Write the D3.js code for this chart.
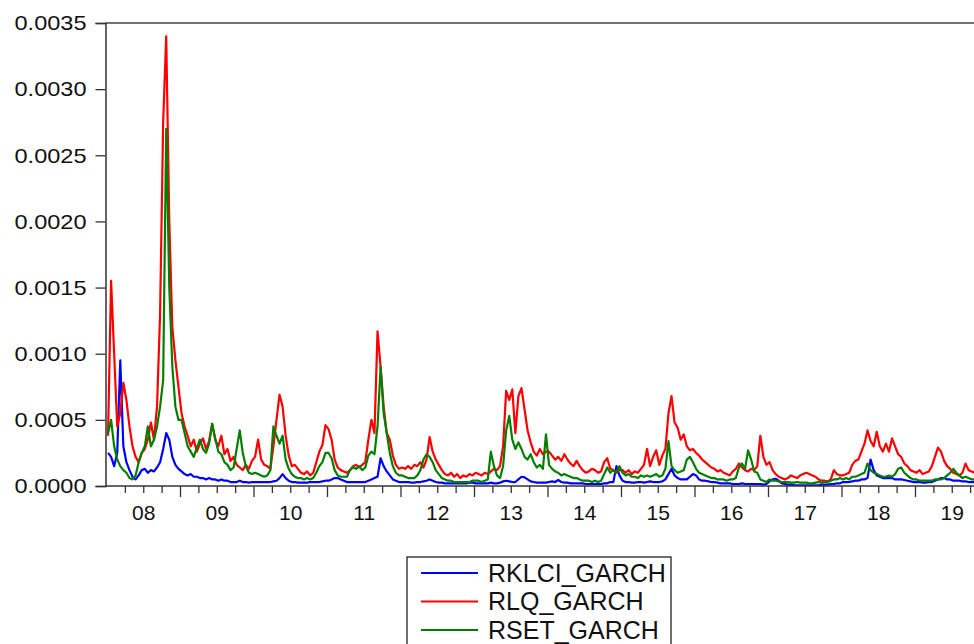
<!DOCTYPE html>
<html>
<head>
<meta charset="utf-8">
<script src="https://cdn.jsdelivr.net/npm/d3@7"></script>
<style>
  html, body { margin: 0; padding: 0; background: #ffffff; }
  svg { display: block; }
  text { font-family: "Liberation Sans", Arial, sans-serif; fill: #111; }
</style>
</head>
<body>
<svg id="chart" width="974" height="644"></svg>
<script>
// ---- data: half-monthly readings, Jan 2008 .. Dec 2019 (24 per year) ----
const seriesNames = ["RKLCI_GARCH", "RLQ_GARCH", "RSET_GARCH"];
const yearLabels = ["08","09","10","11","12","13","14","15","16","17","18","19"];
const firstYear = 2008;
const pointsPerYear = 24;
const yTickValues = [0, 0.0005, 0.0010, 0.0015, 0.0020, 0.0025, 0.0030, 0.0035];
const yTickLabels = ["0.0000","0.0005","0.0010","0.0015","0.0020","0.0025","0.0030","0.0035"];

const rklci = [
 2.5e-4,2.2e-4,1.5e-4,2.5e-4,9.5e-4,3.0e-4,1.8e-4,1.2e-4,0.7e-4,0.5e-4,0.8e-4,1.2e-4,1.3e-4,1.0e-4,1.2e-4,1.1e-4,1.4e-4,1.8e-4,2.8e-4,4.0e-4,3.5e-4,2.2e-4,1.6e-4,1.3e-4,
 1.1e-4,0.9e-4,0.8e-4,0.9e-4,0.7e-4,0.7e-4,0.6e-4,0.6e-4,0.5e-4,0.6e-4,0.5e-4,0.5e-4,0.4e-4,0.5e-4,0.4e-4,0.4e-4,0.3e-4,0.3e-4,0.3e-4,0.4e-4,0.3e-4,0.3e-4,0.25e-4,0.3e-4,
 0.3e-4,0.3e-4,0.3e-4,0.3e-4,0.3e-4,0.3e-4,0.35e-4,0.4e-4,0.6e-4,0.9e-4,0.6e-4,0.4e-4,0.3e-4,0.3e-4,0.25e-4,0.25e-4,0.25e-4,0.25e-4,0.3e-4,0.3e-4,0.3e-4,0.3e-4,0.35e-4,0.4e-4,
 0.4e-4,0.5e-4,0.6e-4,0.6e-4,0.5e-4,0.4e-4,0.3e-4,0.3e-4,0.3e-4,0.3e-4,0.3e-4,0.3e-4,0.3e-4,0.4e-4,0.5e-4,0.6e-4,0.7e-4,2.1e-4,1.5e-4,1.1e-4,0.8e-4,0.5e-4,0.4e-4,0.3e-4,
 0.3e-4,0.3e-4,0.3e-4,0.25e-4,0.25e-4,0.3e-4,0.3e-4,0.35e-4,0.4e-4,0.5e-4,0.4e-4,0.3e-4,0.25e-4,0.25e-4,0.2e-4,0.2e-4,0.2e-4,0.2e-4,0.2e-4,0.2e-4,0.2e-4,0.2e-4,0.25e-4,0.25e-4,
 0.2e-4,0.2e-4,0.2e-4,0.2e-4,0.2e-4,0.25e-4,0.2e-4,0.2e-4,0.25e-4,0.35e-4,0.4e-4,0.35e-4,0.3e-4,0.3e-4,0.5e-4,0.7e-4,0.65e-4,0.5e-4,0.35e-4,0.3e-4,0.25e-4,0.25e-4,0.25e-4,0.25e-4,
 0.3e-4,0.35e-4,0.3e-4,0.45e-4,0.3e-4,0.25e-4,0.25e-4,0.2e-4,0.2e-4,0.2e-4,0.2e-4,0.2e-4,0.15e-4,0.15e-4,0.15e-4,0.15e-4,0.15e-4,0.15e-4,0.2e-4,0.2e-4,0.3e-4,0.3e-4,1.5e-4,0.8e-4,
 0.4e-4,0.3e-4,0.3e-4,0.25e-4,0.25e-4,0.3e-4,0.3e-4,0.25e-4,0.3e-4,0.35e-4,0.3e-4,0.3e-4,0.3e-4,0.35e-4,0.5e-4,0.9e-4,1.3e-4,0.8e-4,0.6e-4,0.5e-4,0.5e-4,0.5e-4,0.7e-4,0.9e-4,
 0.8e-4,0.5e-4,0.4e-4,0.4e-4,0.35e-4,0.3e-4,0.3e-4,0.25e-4,0.2e-4,0.2e-4,0.2e-4,0.2e-4,0.15e-4,0.15e-4,0.15e-4,0.2e-4,0.15e-4,0.15e-4,0.15e-4,0.15e-4,0.15e-4,0.15e-4,0.1e-4,0.15e-4,
 0.35e-4,0.5e-4,0.55e-4,0.4e-4,0.2e-4,0.15e-4,0.1e-4,0.1e-4,0.05e-4,0.05e-4,0.05e-4,0.05e-4,0.05e-4,0.05e-4,0.05e-4,0.05e-4,0.05e-4,0.1e-4,0.1e-4,0.1e-4,0.15e-4,0.15e-4,0.2e-4,0.2e-4,
 0.3e-4,0.3e-4,0.3e-4,0.35e-4,0.4e-4,0.4e-4,0.5e-4,0.5e-4,0.6e-4,2.0e-4,1.2e-4,0.8e-4,0.7e-4,0.6e-4,0.6e-4,0.6e-4,0.6e-4,0.5e-4,0.5e-4,0.5e-4,0.45e-4,0.4e-4,0.35e-4,0.3e-4,
 0.3e-4,0.3e-4,0.25e-4,0.25e-4,0.3e-4,0.3e-4,0.4e-4,0.5e-4,0.6e-4,0.6e-4,0.5e-4,0.5e-4,0.4e-4,0.4e-4,0.4e-4,0.35e-4,0.35e-4,0.3e-4,0.3e-4,0.3e-4,0.3e-4,0.3e-4,0.3e-4,0.3e-4
];

const rlq = [
 3.8e-4,15.5e-4,10e-4,4.5e-4,5.5e-4,7.8e-4,6.5e-4,4.5e-4,3.0e-4,2.2e-4,1.8e-4,2.5e-4,2.8e-4,3.5e-4,4.8e-4,3.5e-4,6.0e-4,13e-4,27.5e-4,34e-4,20e-4,12e-4,9.5e-4,7.5e-4,
 5.5e-4,4.5e-4,3.8e-4,3.0e-4,3.5e-4,2.6e-4,3.2e-4,3.6e-4,2.8e-4,3.4e-4,4.7e-4,3.5e-4,3.0e-4,3.8e-4,2.4e-4,2.8e-4,1.9e-4,2.2e-4,1.6e-4,1.4e-4,1.2e-4,1.6e-4,1.3e-4,1.9e-4,
 2.2e-4,3.5e-4,2.0e-4,1.6e-4,1.5e-4,1.3e-4,3.0e-4,5.0e-4,6.9e-4,6.0e-4,3.8e-4,2.3e-4,1.5e-4,1.6e-4,1.3e-4,1.0e-4,0.9e-4,1.1e-4,0.8e-4,1.0e-4,1.8e-4,2.6e-4,3.1e-4,4.6e-4,
 4.3e-4,3.5e-4,2.0e-4,1.4e-4,1.2e-4,1.1e-4,1.0e-4,1.2e-4,1.5e-4,1.6e-4,1.4e-4,1.6e-4,1.8e-4,3.5e-4,5.0e-4,4.0e-4,11.7e-4,9.0e-4,6.0e-4,4.0e-4,3.5e-4,2.3e-4,1.6e-4,1.3e-4,
 1.4e-4,1.3e-4,1.5e-4,1.3e-4,1.6e-4,1.5e-4,1.8e-4,1.4e-4,2.0e-4,3.7e-4,2.6e-4,2.0e-4,1.6e-4,1.2e-4,0.9e-4,0.8e-4,1.0e-4,0.7e-4,0.9e-4,0.6e-4,0.8e-4,0.7e-4,0.9e-4,0.8e-4,
 1.0e-4,0.9e-4,0.8e-4,1.0e-4,0.9e-4,1.1e-4,1.3e-4,1.2e-4,1.5e-4,3.0e-4,7.2e-4,6.5e-4,7.3e-4,4.0e-4,6.8e-4,7.4e-4,5.8e-4,4.2e-4,3.3e-4,2.6e-4,2.3e-4,2.8e-4,2.4e-4,2.6e-4,
 2.6e-4,2.3e-4,2.0e-4,2.2e-4,1.9e-4,2.4e-4,2.0e-4,1.7e-4,1.5e-4,1.9e-4,1.5e-4,1.2e-4,1.0e-4,1.1e-4,1.3e-4,1.2e-4,1.0e-4,1.1e-4,1.8e-4,2.1e-4,1.3e-4,1.2e-4,1.0e-4,1.2e-4,
 1.2e-4,1.0e-4,1.2e-4,0.9e-4,1.1e-4,1.0e-4,1.3e-4,1.6e-4,2.8e-4,1.5e-4,2.2e-4,2.7e-4,1.6e-4,2.3e-4,2.8e-4,5.5e-4,6.8e-4,4.8e-4,4.4e-4,3.5e-4,3.9e-4,3.0e-4,2.7e-4,2.8e-4,
 2.5e-4,2.3e-4,2.0e-4,1.8e-4,1.6e-4,1.4e-4,1.3e-4,1.1e-4,1.2e-4,1.0e-4,0.9e-4,0.8e-4,1.1e-4,1.3e-4,1.7e-4,1.4e-4,1.2e-4,1.1e-4,1.3e-4,1.2e-4,1.5e-4,3.8e-4,2.2e-4,1.6e-4,
 1.8e-4,1.2e-4,0.9e-4,0.7e-4,0.6e-4,0.5e-4,0.6e-4,0.8e-4,0.7e-4,0.6e-4,0.8e-4,0.9e-4,1.0e-4,0.9e-4,0.8e-4,0.7e-4,0.5e-4,0.4e-4,0.4e-4,0.35e-4,0.5e-4,1.2e-4,0.9e-4,0.8e-4,
 0.8e-4,0.9e-4,1.0e-4,1.6e-4,1.9e-4,2.0e-4,2.6e-4,3.2e-4,4.2e-4,3.4e-4,3.0e-4,4.1e-4,3.0e-4,2.6e-4,3.2e-4,2.6e-4,3.6e-4,3.0e-4,2.4e-4,2.2e-4,1.7e-4,1.5e-4,1.2e-4,1.1e-4,
 1.0e-4,1.2e-4,0.9e-4,1.0e-4,1.1e-4,1.5e-4,2.2e-4,2.9e-4,2.6e-4,1.9e-4,1.5e-4,1.3e-4,1.0e-4,0.9e-4,0.8e-4,1.0e-4,1.7e-4,1.2e-4,1.1e-4,1.0e-4,1.0e-4,0.9e-4,0.9e-4,0.8e-4
];

const rset = [
 4.0e-4,5.0e-4,3.0e-4,2.0e-4,1.5e-4,1.2e-4,1.0e-4,0.6e-4,0.5e-4,0.8e-4,1.8e-4,2.5e-4,3.0e-4,4.5e-4,3.0e-4,3.5e-4,4.5e-4,6.0e-4,8.0e-4,27e-4,15e-4,9.0e-4,6.0e-4,5.0e-4,
 5.0e-4,4.0e-4,3.0e-4,2.6e-4,2.2e-4,2.9e-4,3.5e-4,2.8e-4,2.5e-4,3.2e-4,4.7e-4,3.6e-4,2.6e-4,2.4e-4,1.8e-4,1.6e-4,1.2e-4,1.4e-4,2.8e-4,4.2e-4,2.5e-4,1.5e-4,1.0e-4,0.9e-4,
 1.0e-4,0.9e-4,0.8e-4,0.7e-4,0.8e-4,1.2e-4,4.5e-4,3.8e-4,3.2e-4,3.8e-4,2.0e-4,1.3e-4,0.9e-4,0.7e-4,0.6e-4,0.6e-4,0.5e-4,0.6e-4,0.5e-4,0.6e-4,1.0e-4,1.5e-4,1.8e-4,2.5e-4,
 2.5e-4,2.1e-4,1.2e-4,0.8e-4,0.7e-4,0.7e-4,0.7e-4,1.2e-4,1.4e-4,1.3e-4,1.5e-4,1.2e-4,1.4e-4,2.3e-4,2.6e-4,2.4e-4,4.5e-4,9.0e-4,5.5e-4,4.0e-4,2.5e-4,1.5e-4,1.0e-4,0.8e-4,
 0.8e-4,0.7e-4,0.6e-4,0.6e-4,0.6e-4,0.8e-4,1.2e-4,2.0e-4,2.4e-4,2.2e-4,1.8e-4,1.2e-4,0.9e-4,0.6e-4,0.5e-4,0.4e-4,0.4e-4,0.3e-4,0.3e-4,0.3e-4,0.3e-4,0.3e-4,0.3e-4,0.4e-4,
 0.4e-4,0.4e-4,0.3e-4,0.4e-4,0.5e-4,2.6e-4,1.5e-4,0.8e-4,0.6e-4,1.5e-4,4.2e-4,5.3e-4,3.5e-4,2.8e-4,3.3e-4,2.8e-4,2.2e-4,2.0e-4,2.4e-4,1.8e-4,1.4e-4,1.6e-4,1.3e-4,3.9e-4,
 1.6e-4,1.3e-4,1.1e-4,1.0e-4,0.8e-4,0.9e-4,0.8e-4,0.7e-4,0.6e-4,0.6e-4,0.5e-4,0.4e-4,0.4e-4,0.4e-4,0.3e-4,0.4e-4,0.3e-4,0.4e-4,0.9e-4,1.4e-4,1.0e-4,1.2e-4,1.0e-4,1.5e-4,
 1.0e-4,0.8e-4,0.9e-4,0.7e-4,0.7e-4,0.6e-4,0.8e-4,0.7e-4,0.8e-4,0.7e-4,0.8e-4,0.9e-4,0.7e-4,0.8e-4,1.3e-4,3.4e-4,1.5e-4,1.2e-4,1.0e-4,1.1e-4,1.2e-4,2.0e-4,2.2e-4,1.8e-4,
 1.3e-4,1.0e-4,0.9e-4,0.8e-4,0.7e-4,0.6e-4,0.6e-4,0.5e-4,0.5e-4,0.5e-4,0.4e-4,0.5e-4,0.5e-4,0.6e-4,1.4e-4,1.7e-4,1.3e-4,2.7e-4,2.0e-4,1.1e-4,1.0e-4,0.5e-4,0.4e-4,0.3e-4,
 0.5e-4,0.4e-4,0.4e-4,0.35e-4,0.3e-4,0.3e-4,0.3e-4,0.25e-4,0.25e-4,0.3e-4,0.25e-4,0.25e-4,0.25e-4,0.2e-4,0.2e-4,0.25e-4,0.3e-4,0.25e-4,0.3e-4,0.3e-4,0.4e-4,0.5e-4,0.5e-4,0.6e-4,
 0.5e-4,0.6e-4,0.5e-4,0.7e-4,0.7e-4,0.8e-4,0.9e-4,1.0e-4,1.7e-4,1.2e-4,1.0e-4,0.9e-4,0.8e-4,0.7e-4,0.7e-4,0.8e-4,0.7e-4,0.9e-4,1.3e-4,1.4e-4,1.0e-4,0.8e-4,0.6e-4,0.5e-4,
 0.5e-4,0.4e-4,0.4e-4,0.4e-4,0.4e-4,0.4e-4,0.5e-4,0.5e-4,0.5e-4,0.6e-4,0.8e-4,1.0e-4,1.3e-4,1.0e-4,0.8e-4,0.6e-4,0.7e-4,0.6e-4,0.5e-4,0.5e-4,0.5e-4,0.5e-4,0.5e-4,0.5e-4
];

const seriesColors = ["#0000ff", "#ff0000", "#008000"];

// ---- layout ----
const svg = d3.select("#chart");
const plot = { left: 105.5, top: 23, right: 988.5, bottom: 486 };

const x = d3.scaleLinear()
  .domain([firstYear, firstYear + yearLabels.length])
  .range([106.5, plot.right]);
const y = d3.scaleLinear()
  .domain([0, 0.0035])
  .range([plot.bottom, plot.top]);

const tOf = i => firstYear + (i + 0.5) / pointsPerYear;

// clip
svg.append("clipPath").attr("id", "clip")
  .append("rect").attr("x", plot.left).attr("y", plot.top - 2)
  .attr("width", plot.right - plot.left).attr("height", plot.bottom - plot.top + 2);

// series lines (drawn in order: blue, red, green on top)
const line = d3.line().x((d, i) => x(tOf(i))).y(d => y(d));
const allSeries = [rklci, rlq, rset];
const gLines = svg.append("g").attr("clip-path", "url(#clip)");
allSeries.forEach((s, k) => {
  gLines.append("path")
    .datum(s)
    .attr("d", line)
    .attr("fill", "none")
    .attr("stroke", seriesColors[k])
    .attr("stroke-width", 2.2)
    .attr("stroke-linejoin", "round");
});

// frame: top line
svg.append("line")
  .attr("x1", plot.left).attr("x2", plot.right + 20)
  .attr("y1", plot.top).attr("y2", plot.top)
  .attr("stroke", "#444").attr("stroke-width", 1.5);

// y axis
const yAxis = d3.axisLeft(y)
  .tickValues(yTickValues)
  .tickFormat((d, i) => yTickLabels[i])
  .tickSize(10)
  .tickPadding(9);
const gy = svg.append("g").attr("transform", `translate(${plot.left},0)`).call(yAxis);
gy.select(".domain").attr("stroke", "#333").attr("stroke-width", 1.5);
gy.selectAll(".tick line").attr("stroke", "#333").attr("stroke-width", 1.3);
gy.selectAll(".tick text")
  .attr("font-size", 21)
  .attr("font-family", "'Liberation Sans', Arial, sans-serif")
  .attr("fill", "#111")
  .attr("textLength", 72)
  .attr("lengthAdjust", "spacingAndGlyphs");

// x axis: quarterly minor ticks, yearly major ticks, labels at mid-year
const quarters = d3.range(firstYear * 4 + 1, (firstYear + yearLabels.length) * 4).map(q => q / 4)
  .filter(q => q % 1 !== 0);
const years = d3.range(firstYear + 1, firstYear + yearLabels.length + 1);
const mids = d3.range(0, yearLabels.length).map(i => firstYear + i + 0.5);

const gxMinor = svg.append("g").attr("transform", `translate(0,${plot.bottom})`)
  .call(d3.axisBottom(x).tickValues(quarters).tickSize(7).tickFormat(""));
gxMinor.select(".domain").remove();
gxMinor.selectAll(".tick line").attr("stroke", "#333").attr("stroke-width", 1.3);

const gxMajor = svg.append("g").attr("transform", `translate(0,${plot.bottom})`)
  .call(d3.axisBottom(x).tickValues(years).tickSize(11).tickFormat(""));
gxMajor.select(".domain").remove();
gxMajor.selectAll(".tick line").attr("stroke", "#333").attr("stroke-width", 1.3);

const gxLab = svg.append("g").attr("transform", `translate(0,${plot.bottom})`)
  .call(d3.axisBottom(x).tickValues(mids).tickSize(0).tickPadding(19)
    .tickFormat((d, i) => yearLabels[i]));
gxLab.select(".domain").remove();
gxLab.selectAll(".tick text")
  .attr("font-size", 21)
  .attr("font-family", "'Liberation Sans', Arial, sans-serif")
  .attr("fill", "#111");

// x baseline
svg.append("line")
  .attr("x1", plot.left).attr("x2", plot.right + 20)
  .attr("y1", plot.bottom).attr("y2", plot.bottom)
  .attr("stroke", "#333").attr("stroke-width", 1.5);

// legend
const legend = svg.append("g").attr("transform", "translate(407,557)");
legend.append("rect")
  .attr("x", 0).attr("y", 0).attr("width", 264).attr("height", 110)
  .attr("fill", "#fff").attr("stroke", "#222").attr("stroke-width", 1.3);
seriesNames.forEach((name, k) => {
  const ry = 16 + k * 28.5;
  legend.append("line")
    .attr("x1", 14).attr("x2", 71).attr("y1", ry).attr("y2", ry)
    .attr("stroke", seriesColors[k]).attr("stroke-width", 2);
  legend.append("text")
    .attr("x", 81).attr("y", ry + 8.5)
    .attr("font-size", 25)
    .text(name);
});
</script>
</body>
</html>
